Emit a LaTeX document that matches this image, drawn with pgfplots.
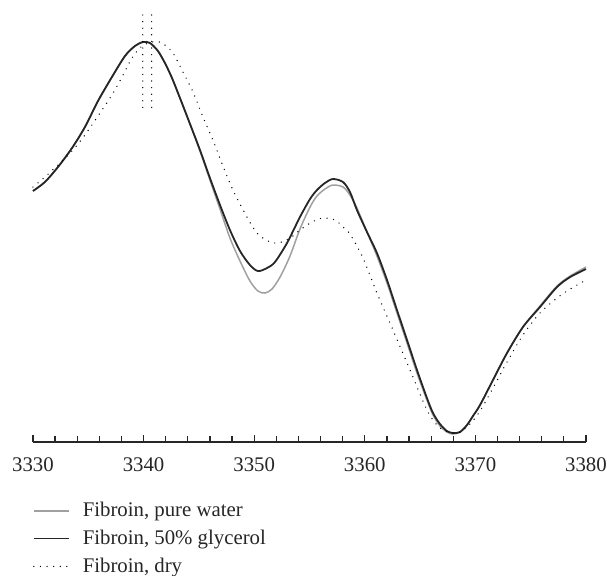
\documentclass[border=0pt]{standalone}
\usepackage{fontspec}
\setmainfont{Liberation Serif}
\usepackage{pgfplots}
\pgfplotsset{compat=1.18}
\definecolor{curveblack}{HTML}{262626}
\definecolor{curvegray}{HTML}{A0A0A0}
\begin{document}
\begin{tikzpicture}
\begin{axis}[
  scale only axis,
  width=276.5pt, height=214.5pt,
  xmin=3330, xmax=3380, ymin=5, ymax=434,
  axis y line=none,
  axis x line*=bottom,
  axis line style={line width=0.6pt, black!85},
  xtick={3330,3340,...,3380},
  minor x tick num=4,
  tick align=inside,
  major tick length=3.7pt,
  minor tick length=2.8pt,
  every tick/.style={line width=0.6pt, black!85},
  xticklabel style={font=\fontsize{10.4}{12}\selectfont, yshift=-4.5pt, text=black!85},
  /pgf/number format/assume math mode=true,
  /pgf/number format/1000 sep={},
  clip=false,
  legend style={draw=none, fill=none, at={(axis cs:3330,-51)}, anchor=north west,
    inner sep=0pt, outer sep=0pt, row sep=1.2pt,
    font=\fontsize{10.4}{12}\selectfont, text=black!85,
    /tikz/every odd column/.append style={column sep=4.5pt}},
  legend cell align=left,
  legend image code/.code={\draw[#1] (0pt,0pt) -- (17.5pt,0pt);},
]
\addplot[curvegray, line width=0.75pt, smooth] coordinates {
(3330.00,256) (3331.08,265) (3332.26,280) (3333.53,299) (3334.70,320) (3335.88,346)
(3337.14,370) (3338.32,391) (3339.22,401) (3339.95,405) (3340.58,404) (3341.30,396)
(3341.93,384) (3342.57,369) (3343.29,349) (3344.20,323) (3345.10,296) (3346.00,267)
(3346.91,238) (3347.81,209) (3348.72,186) (3349.62,166) (3350.34,156) (3350.98,154)
(3351.61,158) (3352.34,170) (3353.24,191) (3354.14,218) (3355.05,240) (3355.68,251)
(3356.40,258) (3357.12,262) (3358.03,260) (3358.66,252) (3359.29,239) (3360.20,215)
(3361.10,191) (3362.01,164) (3362.91,134) (3363.82,104) (3364.72,74) (3365.62,47)
(3366.17,32) (3366.80,21) (3367.43,15) (3367.97,13) (3368.61,15) (3369.24,22)
(3369.78,31) (3370.42,42) (3371.59,67) (3372.86,94) (3374.30,120) (3375.84,141)
(3377.38,161) (3378.57,171) (3380.00,180)
};
\addlegendentry{Fibroin, pure water}
\addplot[curveblack, line width=0.9pt, smooth] coordinates {
(3330.00,256) (3331.08,265) (3332.26,280) (3333.53,299) (3334.70,320) (3335.88,346)
(3337.14,370) (3338.32,391) (3339.22,401) (3339.95,405) (3340.58,404) (3341.30,396)
(3341.93,384) (3342.57,369) (3343.29,349) (3344.20,323) (3345.10,297) (3346.00,269)
(3346.91,242) (3347.81,217) (3348.72,196) (3349.62,182) (3350.34,176) (3351.16,179)
(3351.88,185) (3352.97,204) (3354.14,230) (3355.05,248) (3355.68,257) (3356.40,264)
(3357.12,268) (3358.03,265) (3358.66,255) (3359.29,237) (3360.20,215) (3361.10,194)
(3362.01,167) (3362.91,137) (3363.82,107) (3364.72,77) (3365.62,49) (3366.17,34)
(3366.80,23) (3367.43,16) (3367.97,14) (3368.61,15) (3369.24,22) (3369.78,31)
(3370.42,42) (3371.59,67) (3372.86,94) (3374.30,120) (3375.84,140) (3377.38,160)
(3378.57,170) (3380.00,178)
};
\addlegendentry{Fibroin, 50\% glycerol}
\addplot[black, line width=0.7pt, line cap=round, dash pattern=on 0pt off 3.3pt, smooth] coordinates {
(3330.00,260) (3331.08,270) (3332.26,282) (3333.53,296) (3334.70,312) (3335.88,331)
(3337.14,352) (3338.05,370) (3338.95,389) (3339.86,401) (3340.76,405) (3341.48,405)
(3341.93,402) (3342.66,394) (3343.56,375) (3344.47,355) (3345.37,330) (3346.27,307)
(3347.18,281) (3348.08,257) (3349.35,230) (3350.25,214) (3351.25,206) (3352.15,204)
(3353.24,209) (3354.14,217) (3355.23,225) (3356.22,229) (3357.31,227) (3358.03,220)
(3358.66,213) (3359.84,189) (3361.10,154) (3362.55,117) (3364.09,77) (3365.62,37)
(3366.53,22) (3367.25,16) (3367.97,14) (3368.61,15) (3369.51,23) (3370.42,36)
(3371.59,59) (3372.86,85) (3374.30,112) (3375.84,134) (3377.38,149) (3378.57,158)
(3380.00,167)
};
\addlegendentry{Fibroin, dry}
\addplot[black, line width=0.7pt, line cap=round, dash pattern=on 0pt off 3.3pt, forget plot] coordinates {(3339.93,432) (3339.93,339)};
\addplot[black, line width=0.7pt, line cap=round, dash pattern=on 0pt off 3.3pt, forget plot] coordinates {(3340.73,432) (3340.73,339)};
\coordinate (bbA) at (axis cs:3327.02,447);
\coordinate (bbB) at (axis cs:3381.90,-128);
\end{axis}
\pgfresetboundingbox
\path (bbA) rectangle (bbB);
\end{tikzpicture}
\end{document}
